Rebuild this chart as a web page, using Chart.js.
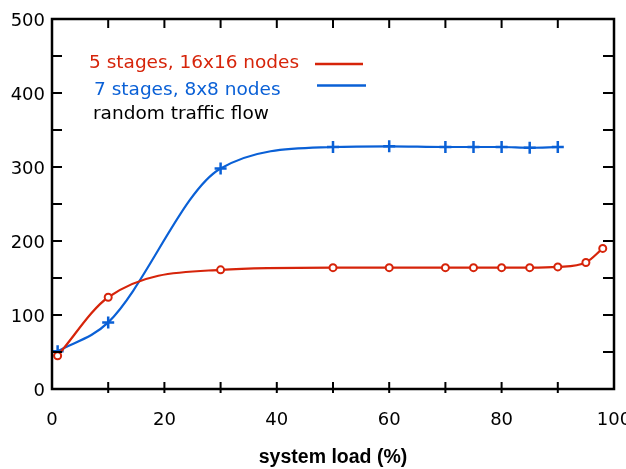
<!DOCTYPE html>
<html>
<head>
<meta charset="utf-8">
<script src="https://cdn.jsdelivr.net/npm/chart.js@4"></script>
<style>
html,body{margin:0;padding:0;background:#fff;}
#wrap{width:626px;height:469px;}
</style>
</head>
<body>
<div id="wrap"><canvas id="c" width="626" height="469" style="width:626px;height:469px"></canvas></div>
<script>
// ---- data ----
const redX = [1, 10, 30, 50, 60, 70, 75, 80, 85, 90, 95, 98];
const redY = [45, 124, 161, 164, 164, 164, 164, 164, 164, 165, 171, 190];
const blueX = [1, 10, 30, 50, 60, 70, 75, 80, 85, 90];
const blueY = [51, 90, 298, 327, 328, 327, 327, 327, 326, 327];
const legendLabels = ['5 stages, 16x16 nodes', '7 stages, 8x8 nodes', 'random traffic flow'];
const xTitle = 'system load (%)';
const xTickValues = [0, 20, 40, 60, 80, 100];
const yTickValues = [0, 100, 200, 300, 400, 500];

const RED = 'rgb(214,36,10)';
const BLUE = 'rgb(10,96,214)';
const FONT = '"DejaVu Sans", sans-serif';

const toPts = (xs, ys) => xs.map((x, i) => ({x: x, y: ys[i]}));

const framePlugin = {
  id: 'frame',
  afterDraw(chart) {
    const {ctx, chartArea: a, scales: {x, y}} = chart;
    ctx.save();
    ctx.strokeStyle = '#000';
    ctx.lineWidth = 2.5;
    ctx.strokeRect(a.left, a.top, a.right - a.left, a.bottom - a.top);
    ctx.lineWidth = 2;
    ctx.beginPath();
    for (let v = 10; v < 100; v += 10) {
      const px = x.getPixelForValue(v);
      ctx.moveTo(px, a.bottom + 4); ctx.lineTo(px, a.bottom - 7);
      ctx.moveTo(px, a.top); ctx.lineTo(px, a.top + 9);
    }
    for (let v = 50; v < 500; v += 50) {
      const py = y.getPixelForValue(v);
      ctx.moveTo(a.left, py); ctx.lineTo(a.left + 10, py);
      ctx.moveTo(a.right, py); ctx.lineTo(a.right - 11, py);
    }
    ctx.stroke();

    // legend
    ctx.font = '18.5px ' + FONT;
    ctx.textBaseline = 'alphabetic';
    ctx.textAlign = 'left';
    const lx = a.left;
    ctx.fillStyle = RED; ctx.fillText(legendLabels[0], lx + 37, 68);
    ctx.fillStyle = BLUE; ctx.fillText(legendLabels[1], lx + 42, 94.5);
    ctx.fillStyle = '#000'; ctx.fillText(legendLabels[2], lx + 41, 119);
    ctx.lineWidth = 2.5;
    ctx.strokeStyle = RED;
    ctx.beginPath(); ctx.moveTo(315, 64); ctx.lineTo(363, 64); ctx.stroke();
    ctx.strokeStyle = BLUE;
    ctx.beginPath(); ctx.moveTo(317, 85.5); ctx.lineTo(366, 85.5); ctx.stroke();
    ctx.restore();
  }
};

new Chart(document.getElementById('c'), {
  type: 'scatter',
  data: {
    datasets: [
      {
        label: legendLabels[0],
        data: toPts(redX, redY),
        showLine: true,
        borderColor: RED,
        borderWidth: 2.2,
        cubicInterpolationMode: 'monotone',
        pointStyle: 'circle',
        pointRadius: 3.5,
        pointBorderWidth: 2,
        pointBorderColor: RED,
        pointBackgroundColor: '#fff'
      },
      {
        label: legendLabels[1],
        data: toPts(blueX, blueY),
        showLine: true,
        borderColor: BLUE,
        borderWidth: 2.2,
        cubicInterpolationMode: 'monotone',
        pointStyle: 'cross',
        pointRadius: 6,
        pointBorderWidth: 2.5,
        pointBorderColor: BLUE,
        pointBackgroundColor: BLUE
      }
    ]
  },
  options: {
    responsive: false,
    animation: false,
    events: [],
    layout: {padding: {left: 0, right: 12, top: 19, bottom: 0}},
    plugins: {legend: {display: false}, tooltip: {enabled: false}},
    scales: {
      x: {
        type: 'linear', min: 0, max: 100,
        afterBuildTicks: s => { s.ticks = xTickValues.map(v => ({value: v})); },
        ticks: {color: '#000', font: {family: FONT, size: 18}, padding: 21, maxRotation: 0, autoSkip: false},
        grid: {display: false, drawTicks: false},
        border: {display: false},
        title: {display: true, text: xTitle, color: '#000', font: {family: '"Liberation Sans", Arial, sans-serif', size: 19.5, weight: 'bold'}, padding: {top: 0, bottom: 0}},
        afterFit: s => { s.height = 80; s.paddingLeft = 0; s.paddingRight = 0; }
      },
      y: {
        type: 'linear', min: 0, max: 500,
        afterBuildTicks: s => { s.ticks = yTickValues.map(v => ({value: v})); },
        ticks: {color: '#000', font: {family: FONT, size: 18}, padding: 7, labelOffset: 2.5},
        grid: {display: false, drawTicks: false},
        border: {display: false},
        afterFit: s => { s.width = 52; s.paddingTop = 0; s.paddingBottom = 0; }
      }
    }
  },
  plugins: [framePlugin]
});
</script>
</body>
</html>
